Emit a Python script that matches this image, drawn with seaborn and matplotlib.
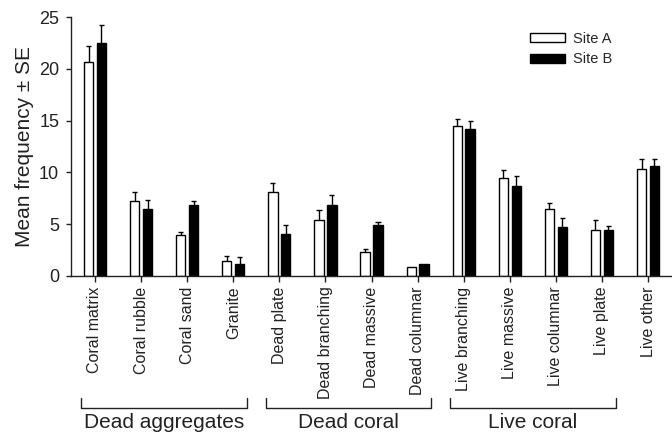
import numpy as np
import pandas as pd
import seaborn as sns
from matplotlib import pyplot as plt
from matplotlib.patches import Patch
from matplotlib.transforms import blended_transform_factory

categories = ["Coral matrix", "Coral rubble", "Coral sand", "Granite",
              "Dead plate", "Dead branching", "Dead massive", "Dead columnar",
              "Live branching", "Live massive", "Live columnar", "Live plate",
              "Live other"]
site_a = [20.7, 7.25, 4.0, 1.45, 8.1, 5.4, 2.3, 0.9, 14.5, 9.45, 6.45, 4.45, 10.3]
site_a_se = [1.5, 0.9, 0.2, 0.5, 0.9, 0.95, 0.35, 0.0, 0.7, 0.75, 0.6, 0.95, 1.0]
site_b = [22.5, 6.45, 6.85, 1.15, 4.1, 6.9, 4.9, 1.2, 14.15, 8.65, 4.75, 4.45, 10.6]
site_b_se = [1.7, 0.9, 0.35, 0.7, 0.8, 0.9, 0.3, 0.0, 0.8, 1.05, 0.85, 0.35, 0.7]
groups = [("Dead aggregates", 0, 3), ("Dead coral", 4, 7), ("Live coral", 8, 11)]

df = pd.DataFrame({
    "category": categories * 2,
    "Site": ["Site A"] * len(categories) + ["Site B"] * len(categories),
    "mean": site_a + site_b,
    "se": site_a_se + site_b_se,
})

sns.set_style("ticks")
plt.rcParams["font.family"] = ["Liberation Sans", "DejaVu Sans"]

fig = plt.figure(figsize=(6.72, 4.33), dpi=100)
ax = fig.add_axes([0.1057, 0.3626, 0.8943, 0.5981])

sns.barplot(data=df, x="category", y="mean", hue="Site",
            palette={"Site A": "white", "Site B": "black"},
            edgecolor="black", linewidth=1.0, width=0.56, gap=0.28,
            errorbar=None, legend=False, ax=ax)

# error bars, upper half only
for cont, (name, sub) in zip(ax.containers, df.groupby("Site", sort=True)):
    xs = np.array([p.get_x() + p.get_width() / 2 for p in cont])
    m = sub["mean"].values
    se = sub["se"].values
    show = se > 0
    ax.vlines(xs[show], m[show], m[show] + se[show], color="black", lw=1.0)
    ax.hlines(m[show] + se[show], xs[show] - 0.055, xs[show] + 0.055, color="black", lw=1.0)

ax.set_xlim(-0.52, 12.52)
ax.set_ylim(0, 25)
ax.set_yticks([0, 5, 10, 15, 20, 25])
ax.tick_params(axis="y", labelsize=13, length=3.5, width=1, pad=5, colors="#222222")
ax.tick_params(axis="x", labelsize=11.5, length=4, width=1, rotation=90, colors="#222222")
ax.set_xlabel("")
ax.set_ylabel("Mean frequency ± SE", fontsize=15, color="#222222")
sns.despine(ax=ax)
for s in ("left", "bottom"):
    ax.spines[s].set_linewidth(1.0)
    ax.spines[s].set_color("#222222")

handles = [Patch(facecolor="white", edgecolor="black", lw=1.0, label="Site A"),
           Patch(facecolor="black", edgecolor="black", lw=1.0, label="Site B")]
ax.legend(handles=handles, loc="upper left", bbox_to_anchor=(0.754, 0.965),
          frameon=False, fontsize=10.5, handlelength=2.4, handleheight=0.55,
          handletextpad=0.55, labelspacing=0.45, borderaxespad=0)

trans = blended_transform_factory(ax.transData, ax.transAxes)
for label, i0, i1 in groups:
    x0, x1 = i0 - 0.3, i1 + 0.3
    ax.plot([x0, x0, x1, x1], [-0.471, -0.51, -0.51, -0.471], color="#222222",
            lw=1.0, transform=trans, clip_on=False)
    ax.text((x0 + x1) / 2, -0.565, label, transform=trans, ha="center", va="center",
            fontsize=15, color="#222222")

fig.savefig("out.png", dpi=100)
